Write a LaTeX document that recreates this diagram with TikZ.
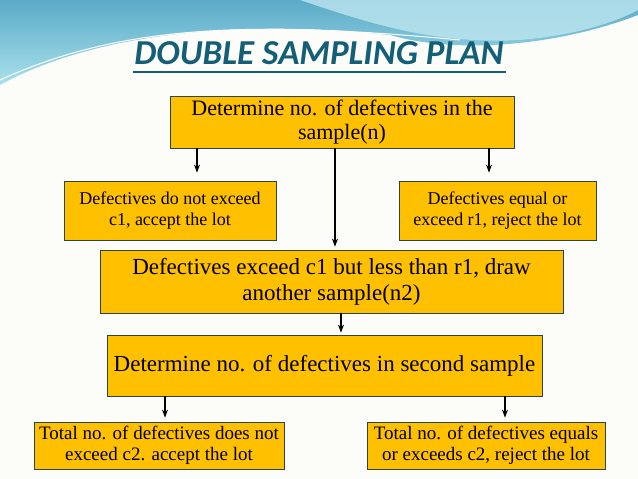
\documentclass[tikz,border=0pt]{standalone}
\usepackage{fontspec}
\setmainfont{Liberation Serif}
\newfontfamily\titlefont{Carlito}
\usetikzlibrary{arrows.meta}
\definecolor{boxfill}{RGB}{255,192,0}
\definecolor{boxdraw}{RGB}{40,70,80}
\definecolor{titlec}{RGB}{20,95,120}
\definecolor{waveA}{RGB}{90,170,200}
\definecolor{waveB}{RGB}{170,225,235}
\definecolor{waveC}{RGB}{190,230,240}
\definecolor{bgc}{RGB}{252,252,248}
\begin{document}
\begin{tikzpicture}[x=1pt,y=-1pt,
  box/.style={draw=boxdraw,line width=0.8pt,fill=boxfill,align=center,inner sep=2pt},
  arr/.style={-{Stealth[length=8pt,width=6pt]},line width=1.1pt}]
\useasboundingbox (0,0) rectangle (638,479);
\fill[bgc] (0,0) rectangle (638,479);
\shade[top color=waveA,bottom color=waveB]
  (0,0) -- (638,0) -- (638,15) .. controls (560,45) and (460,55) .. (390,35)
  .. controls (250,20) and (100,30) .. (0,85) -- cycle;
\fill[waveC,opacity=0.8] (300,0) .. controls (360,20) and (430,45) .. (520,40) .. controls (580,35) and (620,20) .. (638,10) -- (638,0) -- cycle;
\draw[white,line width=1pt] (0,80) .. controls (120,25) and (250,20) .. (460,40);
\node[font=\titlefont\bfseries\itshape\fontsize{35}{40}\selectfont,text=titlec] (title) at (319,53) {DOUBLE SAMPLING PLAN};
\draw[titlec,line width=1.4pt] (133,72) -- (506,72);
\node[box,minimum width=344pt,minimum height=52pt,font=\fontsize{22}{24}\selectfont] (top) at (342,122) {Determine no. of defectives in the\\sample(n)};
\node[box,minimum width=212pt,minimum height=59pt,font=\fontsize{18}{21}\selectfont] (l1) at (170,210.5) {Defectives do not exceed\\c1, accept the lot};
\node[box,minimum width=197pt,minimum height=59pt,font=\fontsize{18}{21}\selectfont] (r1) at (497.5,210.5) {Defectives equal or\\exceed r1, reject the lot};
\node[box,minimum width=463pt,minimum height=63pt,font=\fontsize{23}{26}\selectfont] (mid) at (331.5,281.5) {Defectives exceed c1 but less than r1, draw\\another sample(n2)};
\node[box,minimum width=435pt,minimum height=61pt,font=\fontsize{23}{26}\selectfont] (sec) at (324.5,365.5) {Determine no. of defectives in second sample};
\node[box,minimum width=250pt,minimum height=47pt,font=\fontsize{19}{21}\selectfont] (bl) at (159,445.5) {Total no. of defectives does not\\exceed c2. accept the lot};
\node[box,minimum width=238pt,minimum height=47pt,font=\fontsize{19}{21}\selectfont] (br) at (486,445.5) {Total no. of defectives equals\\or exceeds c2, reject the lot};
\draw[arr,shorten >=8pt] (top.south -| 197,0) -- (l1.north -| 197,0);
\draw[arr,shorten >=8pt] (top.south -| 489,0) -- (r1.north -| 489,0);
\draw[arr,shorten >=3pt] (top.south -| 335,0) -- (mid.north -| 335,0);
\draw[arr,shorten >=2pt] (mid.south -| 341,0) -- (sec.north -| 341,0);
\draw[arr,shorten >=4pt] (sec.south -| 165,0) -- (bl.north -| 165,0);
\draw[arr,shorten >=4pt] (sec.south -| 505,0) -- (br.north -| 505,0);
\end{tikzpicture}
\end{document}
